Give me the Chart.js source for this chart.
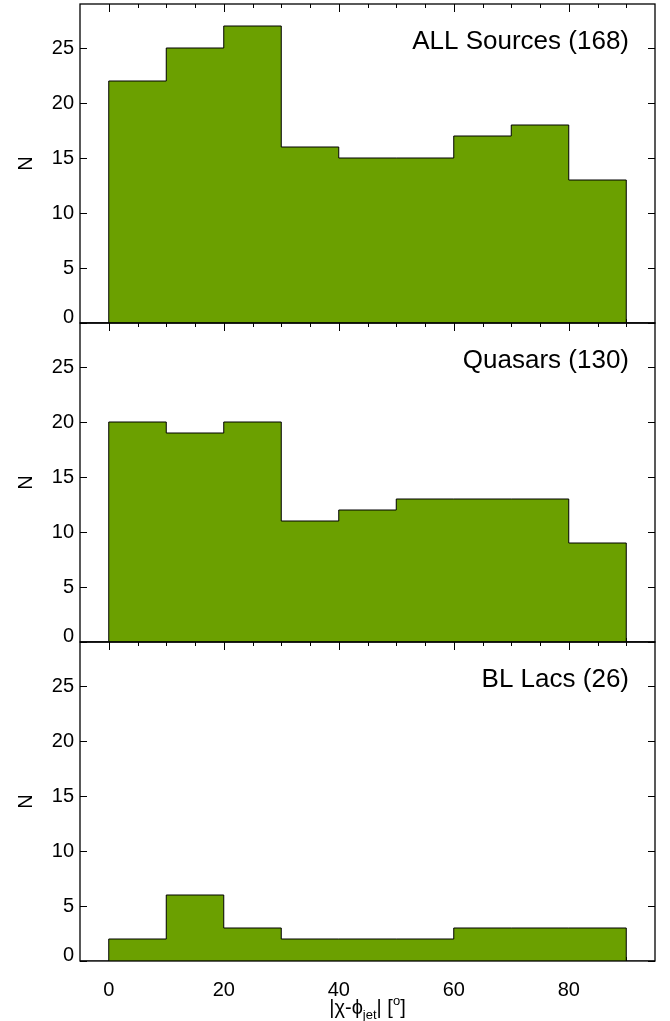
<!DOCTYPE html>
<html>
  <head>
    <meta charset="utf-8">
    <script src="https://cdn.jsdelivr.net/npm/chart.js@4.4.1/dist/chart.umd.min.js"></script>
    <style>
      html, body { margin: 0; padding: 0; background: #fff; }
      #wrap { width: 670px; height: 1021px; }
    </style>
  </head>
  <body>
    <div id="wrap"><canvas id="hist"></canvas></div>
    <script>
      // histogram bins of |chi - phi_jet| in degrees
      var binEdges = [0, 10, 20, 30, 40, 50, 60, 70, 80, 90]
      var allCounts = [22, 25, 27, 16, 15, 15, 17, 18, 13]
      var quasarCounts = [20, 19, 20, 11, 12, 13, 13, 13, 9]
      var bllacCounts = [2, 6, 3, 2, 2, 2, 3, 3, 3]
      var panelTitles = ['ALL Sources (168)', 'Quasars (130)', 'BL Lacs (26)']
      var yTickValues = [0, 5, 10, 15, 20, 25]
      var xTickValues = [0, 20, 40, 60, 80]

      var xMin = -5, xMax = 95, yMax = 29
      var fillColor = '#6ba000'
      var inkColor = '#000'
      var fontFamily = '"Liberation Sans", Arial, Helvetica, sans-serif'

      // outline of a histogram as a stepped line: (left edge, count) pairs plus the closing edge
      function histPoints(counts) {
        var n = counts.length
        var pts = [{ x: xMin, y: 0 }, { x: binEdges[0], y: 0 }]
        for (var i = 0; i < n; i++) pts.push({ x: binEdges[i], y: counts[i] })
        pts.push({ x: binEdges[n], y: counts[n - 1] })
        pts.push({ x: binEdges[n], y: 0 })
        pts.push({ x: xMax, y: 0 })
        return pts
      }

      function histDataset(counts, axisId) {
        return {
          data: histPoints(counts),
          yAxisID: axisId,
          stepped: true,
          fill: 'origin',
          backgroundColor: fillColor,
          borderColor: inkColor,
          borderWidth: 1,
          pointRadius: 0,
          tension: 0,
        }
      }

      function panelAxis() {
        return {
          type: 'linear',
          position: 'left',
          stack: 'panels',
          stackWeight: 1,
          min: 0,
          max: yMax,
          afterBuildTicks: function (s) { s.ticks = yTickValues.map(function (v) { return { value: v } }) },
          afterFit: function (s) { s.width = 80 },
          grid: { display: false },
          border: { display: false },
          ticks: { display: false },
          title: {
            display: true,
            text: 'N',
            color: inkColor,
            font: { family: fontFamily, size: 20 },
            padding: { top: 14, bottom: 0 },
          },
        }
      }

      // panels top to bottom, matching the axis ids below
      var panelAxes = ['yAll', 'yQ', 'yBL']

      var framePlugin = {
        id: 'panelFrames',
        beforeDatasetsDraw: function (chart) {
          var ctx = chart.ctx, area = chart.chartArea, xs = chart.scales.x
          ctx.save()
          ctx.strokeStyle = inkColor
          ctx.lineWidth = 1
          panelAxes.forEach(function (id) {
            var ys = chart.scales[id]
            ctx.beginPath()
            for (var v = 0; v <= 90; v += 5) {
              var px = Math.round(xs.getPixelForValue(v)) + 0.5
              var len = v % 20 === 0 ? 8 : 4
              ctx.moveTo(px, ys.top); ctx.lineTo(px, ys.top + len)
              ctx.moveTo(px, ys.bottom); ctx.lineTo(px, ys.bottom - len)
            }
            yTickValues.forEach(function (v) {
              var py = Math.round(ys.getPixelForValue(v)) + 0.5
              ctx.moveTo(area.left, py); ctx.lineTo(area.left + 7, py)
              ctx.moveTo(area.right, py); ctx.lineTo(area.right - 7, py)
            })
            ctx.stroke()
          })
          ctx.restore()
        },
        afterDatasetsDraw: function (chart) {
          var ctx = chart.ctx, area = chart.chartArea
          ctx.save()
          ctx.strokeStyle = inkColor
          ctx.lineWidth = 1.3
          ctx.fillStyle = inkColor
          panelAxes.forEach(function (id, k) {
            var ys = chart.scales[id]
            ctx.strokeRect(area.left, ys.top, area.right - area.left, ys.bottom - ys.top)

            // y tick labels; the zero sits on its tick instead of centring on it
            ctx.font = '20px ' + fontFamily
            ctx.textAlign = 'right'
            yTickValues.forEach(function (v) {
              var py = ys.getPixelForValue(v)
              ctx.textBaseline = v === 0 ? 'alphabetic' : 'middle'
              ctx.fillText(String(v), area.left - 6, py)
            })

            ctx.font = '26px ' + fontFamily
            ctx.textBaseline = 'alphabetic'
            ctx.fillText(panelTitles[k], area.right - 26, ys.top + 45)
          })

          // x axis title with sub- and superscript
          var parts = [
            { t: '|\u03c7-\u03d5', size: 20, dy: 0 },
            { t: 'jet', size: 13, dy: 5 },
            { t: '| [', size: 20, dy: 0 },
            { t: 'o', size: 13, dy: -9 },
            { t: ']', size: 20, dy: 0 },
          ]
          var total = 0
          parts.forEach(function (p) {
            ctx.font = p.size + 'px ' + fontFamily
            p.w = ctx.measureText(p.t).width
            total += p.w
          })
          var x = (area.left + area.right) / 2 - total / 2
          var base = area.bottom + 53
          ctx.textAlign = 'left'
          parts.forEach(function (p) {
            ctx.font = p.size + 'px ' + fontFamily
            ctx.fillText(p.t, x, base + p.dy)
            x += p.w
          })
          ctx.restore()
        },
      }

      var scales = {
        x: {
          type: 'linear',
          min: xMin,
          max: xMax,
          afterBuildTicks: function (s) { s.ticks = xTickValues.map(function (v) { return { value: v } }) },
          afterFit: function (s) { s.height = 60 },
          grid: { display: false },
          border: { display: false },
          ticks: {
            color: inkColor,
            font: { family: fontFamily, size: 20 },
            padding: 9,
            autoSkip: false,
            maxRotation: 0,
          },
        },
      }
      // left boxes of one stack are laid out last-defined first, so the bottom panel goes in first
      scales.yBL = panelAxis()
      scales.yQ = panelAxis()
      scales.yAll = panelAxis()

      new Chart(document.getElementById('hist'), {
        type: 'line',
        data: {
          datasets: [
            histDataset(allCounts, 'yAll'),
            histDataset(quasarCounts, 'yQ'),
            histDataset(bllacCounts, 'yBL'),
          ],
        },
        options: {
          animation: false,
          responsive: true,
          maintainAspectRatio: false,
          layout: { padding: { left: 0, right: 15, top: 4, bottom: 0 } },
          plugins: { legend: { display: false }, tooltip: { enabled: false } },
          scales: scales,
        },
        plugins: [framePlugin],
      })
    </script>
  </body>
</html>
